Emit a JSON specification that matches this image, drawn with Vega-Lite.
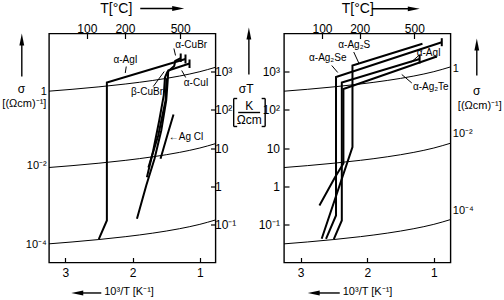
{
  "$schema": "https://vega.github.io/schema/vega-lite/v6.json",
  "background": "white",
  "padding": {"left": 1, "top": 0.5, "right": 0, "bottom": 0},
  "config": {
    "view": {"stroke": "black", "strokeWidth": 1.4},
    "axis": {"labelFont": "Liberation Sans", "labelFontSize": 12, "labelColor": "black", "tickColor": "black", "tickWidth": 1.2, "domain": false, "grid": false, "labelFlush": false, "labelOverlap": false},
    "text": {"font": "Liberation Sans", "color": "black"}
  },
  "datasets": {
    "iso_L": [
      {"sigma": "1", "x": 3.242, "sT": 308.4}, {"sigma": "1", "x": 2.9, "sT": 344.8}, {"sigma": "1", "x": 2.5, "sT": 400}, {"sigma": "1", "x": 2.1, "sT": 476.2}, {"sigma": "1", "x": 1.7, "sT": 588.2}, {"sigma": "1", "x": 1.3, "sT": 769.2}, {"sigma": "1", "x": 1.0, "sT": 1000}, {"sigma": "1", "x": 0.768, "sT": 1302},
      {"sigma": "0.01", "x": 3.242, "sT": 3.084}, {"sigma": "0.01", "x": 2.9, "sT": 3.448}, {"sigma": "0.01", "x": 2.5, "sT": 4.0}, {"sigma": "0.01", "x": 2.1, "sT": 4.762}, {"sigma": "0.01", "x": 1.7, "sT": 5.882}, {"sigma": "0.01", "x": 1.3, "sT": 7.692}, {"sigma": "0.01", "x": 1.0, "sT": 10.0}, {"sigma": "0.01", "x": 0.768, "sT": 13.02},
      {"sigma": "0.0001", "x": 3.242, "sT": 0.03084}, {"sigma": "0.0001", "x": 2.9, "sT": 0.03448}, {"sigma": "0.0001", "x": 2.5, "sT": 0.04}, {"sigma": "0.0001", "x": 2.1, "sT": 0.04762}, {"sigma": "0.0001", "x": 1.7, "sT": 0.05882}, {"sigma": "0.0001", "x": 1.3, "sT": 0.07692}, {"sigma": "0.0001", "x": 1.0, "sT": 0.1}, {"sigma": "0.0001", "x": 0.768, "sT": 0.1302}
    ],
    "iso_R": [
      {"sigma": "1", "x": 3.25, "sT": 307.7}, {"sigma": "1", "x": 2.9, "sT": 344.8}, {"sigma": "1", "x": 2.5, "sT": 400}, {"sigma": "1", "x": 2.1, "sT": 476.2}, {"sigma": "1", "x": 1.7, "sT": 588.2}, {"sigma": "1", "x": 1.3, "sT": 769.2}, {"sigma": "1", "x": 1.0, "sT": 1000}, {"sigma": "1", "x": 0.75, "sT": 1333},
      {"sigma": "0.01", "x": 3.25, "sT": 3.077}, {"sigma": "0.01", "x": 2.9, "sT": 3.448}, {"sigma": "0.01", "x": 2.5, "sT": 4.0}, {"sigma": "0.01", "x": 2.1, "sT": 4.762}, {"sigma": "0.01", "x": 1.7, "sT": 5.882}, {"sigma": "0.01", "x": 1.3, "sT": 7.692}, {"sigma": "0.01", "x": 1.0, "sT": 10.0}, {"sigma": "0.01", "x": 0.75, "sT": 13.33},
      {"sigma": "0.0001", "x": 3.25, "sT": 0.03077}, {"sigma": "0.0001", "x": 2.9, "sT": 0.03448}, {"sigma": "0.0001", "x": 2.5, "sT": 0.04}, {"sigma": "0.0001", "x": 2.1, "sT": 0.04762}, {"sigma": "0.0001", "x": 1.7, "sT": 0.05882}, {"sigma": "0.0001", "x": 1.3, "sT": 0.07692}, {"sigma": "0.0001", "x": 1.0, "sT": 0.1}, {"sigma": "0.0001", "x": 0.75, "sT": 0.1333}
    ],
    "cond_L": [
      {"id": "AgI", "o": 1, "x": 2.502, "sT": 0.041}, {"id": "AgI", "o": 2, "x": 2.382, "sT": 0.126}, {"id": "AgI", "o": 3, "x": 2.382, "sT": 520}, {"id": "AgI", "o": 4, "x": 1.214, "sT": 2150},
      {"id": "AgI_end", "o": 1, "x": 1.214, "sT": 2820}, {"id": "AgI_end", "o": 2, "x": 1.214, "sT": 1640},
      {"id": "CuBr", "o": 1, "x": 1.787, "sT": 1.72}, {"id": "CuBr", "o": 2, "x": 1.693, "sT": 8.61}, {"id": "CuBr", "o": 3, "x": 1.604, "sT": 52.6}, {"id": "CuBr", "o": 4, "x": 1.537, "sT": 238}, {"id": "CuBr", "o": 5, "x": 1.519, "sT": 703}, {"id": "CuBr", "o": 6, "x": 1.485, "sT": 980}, {"id": "CuBr", "o": 7, "x": 1.381, "sT": 1410}, {"id": "CuBr", "o": 8, "x": 1.367, "sT": 1905}, {"id": "CuBr", "o": 9, "x": 1.285, "sT": 2280},
      {"id": "CuBr_end", "o": 1, "x": 1.285, "sT": 2994}, {"id": "CuBr_end", "o": 2, "x": 1.285, "sT": 1792},
      {"id": "CuI", "o": 1, "x": 1.935, "sT": 0.14}, {"id": "CuI", "o": 2, "x": 1.797, "sT": 1.04}, {"id": "CuI", "o": 3, "x": 1.674, "sT": 5.21}, {"id": "CuI", "o": 4, "x": 1.574, "sT": 28.8}, {"id": "CuI", "o": 5, "x": 1.5, "sT": 176}, {"id": "CuI", "o": 6, "x": 1.478, "sT": 588}, {"id": "CuI", "o": 7, "x": 1.47, "sT": 1074}, {"id": "CuI", "o": 8, "x": 1.154, "sT": 1637},
      {"id": "CuI_end", "o": 1, "x": 1.154, "sT": 2084}, {"id": "CuI_end", "o": 2, "x": 1.154, "sT": 1247},
      {"id": "CuBr_beta", "o": 1, "x": 1.765, "sT": 3.08}, {"id": "CuBr_beta", "o": 2, "x": 1.619, "sT": 21.3}, {"id": "CuBr_beta", "o": 3, "x": 1.51, "sT": 176}, {"id": "CuBr_beta", "o": 4, "x": 1.496, "sT": 662},
      {"id": "AgCl", "o": 1, "x": 1.585, "sT": 5.21}, {"id": "AgCl", "o": 2, "x": 1.485, "sT": 21.3}, {"id": "AgCl", "o": 3, "x": 1.392, "sT": 75.5}
    ],
    "cond_R": [
      {"id": "Ag2Se", "o": 1, "x": 2.619, "sT": 0.0418}, {"id": "Ag2Se", "o": 2, "x": 2.469, "sT": 0.1706}, {"id": "Ag2Se", "o": 3, "x": 2.469, "sT": 724}, {"id": "Ag2Se", "o": 4, "x": 0.881, "sT": 5916},
      {"id": "Ag2Se_end", "o": 1, "x": 0.881, "sT": 7534}, {"id": "Ag2Se_end", "o": 2, "x": 0.881, "sT": 4645},
      {"id": "Ag2S", "o": 1, "x": 2.684, "sT": 0.0418}, {"id": "Ag2S", "o": 2, "x": 2.222, "sT": 10.5}, {"id": "Ag2S", "o": 3, "x": 2.222, "sT": 1452}, {"id": "Ag2S", "o": 4, "x": 1.171, "sT": 5370},
      {"id": "AgI", "o": 1, "x": 2.502, "sT": 0.041}, {"id": "AgI", "o": 2, "x": 2.382, "sT": 0.126}, {"id": "AgI", "o": 3, "x": 2.382, "sT": 520}, {"id": "AgI", "o": 4, "x": 1.214, "sT": 2150},
      {"id": "AgI_end", "o": 1, "x": 1.214, "sT": 2820}, {"id": "AgI_end", "o": 2, "x": 1.214, "sT": 1640},
      {"id": "Ag2Te", "o": 1, "x": 2.718, "sT": 0.312}, {"id": "Ag2Te", "o": 2, "x": 2.484, "sT": 1.72}, {"id": "Ag2Te", "o": 3, "x": 2.358, "sT": 3.93}, {"id": "Ag2Te", "o": 4, "x": 2.358, "sT": 351}, {"id": "Ag2Te", "o": 5, "x": 0.956, "sT": 2496}
    ],
    "name_L": [
      {"t": "α-AgI", "x": 2.106, "sT": 1963}, {"t": "α-CuBr", "x": 1.129, "sT": 4853}, {"t": "α-CuI", "x": 1.055, "sT": 490}, {"t": "β-CuBr", "x": 1.785, "sT": 293}
    ],
    "agcl_L": [{"t": "←Ag Cl", "x": 1.463, "sT": 20.0}],
    "name_R": [
      {"t": "α-Ag₂S", "x": 2.195, "sT": 4853}, {"t": "α-Ag₂Se", "x": 2.593, "sT": 2213}, {"t": "α-AgI", "x": 1.076, "sT": 3178}, {"t": "α-Ag₂Te", "x": 1.046, "sT": 408}
    ],
    "ptr_L": [
      {"x": 2.094, "sT": 1365, "x2": 2.109, "sT2": 923},
      {"x": 1.386, "sT": 4046, "x2": 1.362, "sT2": 2654},
      {"x": 1.211, "sT": 703, "x2": 1.27, "sT2": 1074},
      {"x": 1.693, "sT": 408, "x2": 1.53, "sT2": 1009}
    ],
    "ptr_R": [
      {"x": 2.203, "sT": 3273, "x2": 2.12, "sT2": 1589},
      {"x": 2.533, "sT": 1452, "x2": 2.443, "sT2": 951},
      {"x": 1.226, "sT": 2655, "x2": 1.346, "sT2": 1738},
      {"x": 1.331, "sT": 505, "x2": 1.482, "sT2": 843}
    ],
    "sig_L": [
      {"t": "1", "x": 3.275, "sT": 302}, {"t": "10⁻²", "x": 3.275, "sT": 3.28}, {"t": "10⁻⁴", "x": 3.275, "sT": 0.0279}
    ],
    "sig_R": [
      {"t": "1", "x": 0.715, "sT": 1140}, {"t": "10⁻²", "x": 0.715, "sT": 22.6}, {"t": "10⁻⁴", "x": 0.715, "sT": 0.217}
    ],
    "ttl_top_L": [{"t": "T[°C]", "x": 2.48, "sT": 66800}],
    "ttl_top_R": [{"t": "T[°C]", "x": 2.383, "sT": 66800}],
    "ttl_left_L": [{"t": "10³/T [K⁻¹]", "x": 2.421, "sT": 0.00164}, {"t": "[(Ωcm)⁻¹]", "x": 3.935, "sT": 138}],
    "ttl_left_R": [{"t": "10³/T [K⁻¹]", "x": 2.368, "sT": 0.00164}, {"t": "[(Ωcm)⁻¹]", "x": 0.64, "sT": 122.4}],
    "ttl_mid_L": [{"t": "σ", "x": 3.653, "sT": 362}, {"t": "σT", "x": 0.312, "sT": 362}, {"t": "K", "x": 0.2676, "sT": 126}, {"t": "Ωcm", "x": 0.2676, "sT": 54.2}],
    "ttl_mid_R": [{"t": "σ", "x": 0.355, "sT": 321}],
    "seg_L": [
      {"x": 3.646, "sT": 6561, "x2": 3.646, "sT2": 747},
      {"x": 1.886, "sT": 45190, "x2": 1.322, "sT2": 45190},
      {"x": 2.822, "sT": 0.00159, "x2": 2.465, "sT2": 0.00159},
      {"x": 0.272, "sT": 9414, "x2": 0.272, "sT2": 844},
      {"x": 0.431, "sT": 85.1, "x2": 0.105, "sT2": 85.1},
      {"x": 0.498, "sT": 198, "x2": 0.498, "sT2": 36.6},
      {"x": 0.498, "sT": 198, "x2": 0.446, "sT2": 198},
      {"x": 0.498, "sT": 36.6, "x2": 0.446, "sT2": 36.6},
      {"x": 0.03, "sT": 198, "x2": 0.03, "sT2": 36.6},
      {"x": 0.03, "sT": 198, "x2": 0.082, "sT2": 198},
      {"x": 0.03, "sT": 36.6, "x2": 0.082, "sT2": 36.6}
    ],
    "seg_R": [
      {"x": 0.355, "sT": 4853, "x2": 0.355, "sT2": 794},
      {"x": 1.932, "sT": 44350, "x2": 1.301, "sT2": 44350},
      {"x": 2.804, "sT": 0.00159, "x2": 2.413, "sT2": 0.00159}
    ],
    "head_L": [
      {"d": "up", "x": 3.646, "sT": 6966}, {"d": "right", "x": 1.322, "sT": 45190}, {"d": "left", "x": 2.822, "sT": 0.00159}, {"d": "up", "x": 0.272, "sT": 10000}
    ],
    "head_R": [
      {"d": "up", "x": 0.355, "sT": 5152}, {"d": "right", "x": 1.301, "sT": 44350}, {"d": "left", "x": 2.804, "sT": 0.00159}
    ]
  },
  "hconcat": [
    {
      "width": 166.5,
      "height": 229,
      "layer": [
        {
          "data": {"name": "iso_L"},
          "mark": {"type": "line", "color": "black", "strokeWidth": 1, "interpolate": "monotone"},
          "encoding": {
            "x": {"field": "x", "type": "quantitative", "scale": {"domain": [0.768, 3.242], "reverse": true, "nice": false, "zero": false},
                  "axis": {"orient": "bottom", "values": [1, 2, 3], "format": "d", "title": null, "tickSize": -5, "labelPadding": 10}},
            "y": {"field": "sT", "type": "quantitative", "scale": {"type": "log", "domain": [0.01, 10000], "nice": false},
                  "axis": {"orient": "right", "values": [0.1, 1, 10, 100, 1000], "title": null, "tickSize": -5, "labelPadding": 4, "labelAlign": "left",
                           "labelExpr": "datum.value > 500 ? '10³' : datum.value > 50 ? '10²' : datum.value > 5 ? '10' : datum.value > 0.5 ? '1' : '10⁻¹'"}},
            "detail": {"field": "sigma"}
          }
        },
        {
          "data": {"name": "cond_L"},
          "mark": {"type": "line", "color": "black", "strokeWidth": 2},
          "encoding": {
            "x": {"field": "x", "type": "quantitative", "scale": {"domain": [0.768, 3.242], "reverse": true, "nice": false, "zero": false},
                  "axis": {"orient": "top", "values": [2.6799, 2.1135, 1.2934], "title": null, "tickSize": -5, "labelPadding": 3,
                           "labelExpr": "format(1000/datum.value - 273.15, '.0f')"}},
            "y": {"field": "sT", "type": "quantitative", "scale": {"type": "log", "domain": [0.01, 10000], "nice": false}, "axis": null},
            "detail": {"field": "id"},
            "order": {"field": "o", "type": "quantitative"}
          }
        },
        {
          "data": {"name": "ptr_L"},
          "mark": {"type": "rule", "color": "black", "strokeWidth": 1},
          "encoding": {
            "x": {"field": "x", "type": "quantitative", "scale": {"domain": [0.768, 3.242], "reverse": true, "nice": false, "zero": false}, "axis": null},
            "y": {"field": "sT", "type": "quantitative", "scale": {"type": "log", "domain": [0.01, 10000], "nice": false}, "axis": null},
            "x2": {"field": "x2"}, "y2": {"field": "sT2"}
          }
        },
        {
          "data": {"name": "seg_L"},
          "mark": {"type": "rule", "color": "black", "strokeWidth": 1.4},
          "encoding": {
            "x": {"field": "x", "type": "quantitative", "scale": {"domain": [0.768, 3.242], "reverse": true, "nice": false, "zero": false}, "axis": null},
            "y": {"field": "sT", "type": "quantitative", "scale": {"type": "log", "domain": [0.01, 10000], "nice": false}, "axis": null},
            "x2": {"field": "x2"}, "y2": {"field": "sT2"}
          }
        },
        {
          "data": {"name": "head_L"},
          "mark": {"type": "point", "filled": true, "color": "black", "opacity": 1, "size": 144, "strokeWidth": 0},
          "encoding": {
            "x": {"field": "x", "type": "quantitative", "scale": {"domain": [0.768, 3.242], "reverse": true, "nice": false, "zero": false}, "axis": null},
            "y": {"field": "sT", "type": "quantitative", "scale": {"type": "log", "domain": [0.01, 10000], "nice": false}, "axis": null},
            "shape": {"field": "d", "type": "nominal", "legend": null,
                      "scale": {"domain": ["up", "right", "left"], "range": ["M0,-1L0.4,1L-0.4,1Z", "M1,0L-1,0.4L-1,-0.4Z", "M-1,0L1,0.4L1,-0.4Z"]}}
          }
        },
        {
          "data": {"name": "name_L"},
          "mark": {"type": "text", "fontSize": 10, "align": "center", "baseline": "middle", "fill": "black", "font": "Liberation Sans"},
          "encoding": {
            "x": {"field": "x", "type": "quantitative", "scale": {"domain": [0.768, 3.242], "reverse": true, "nice": false, "zero": false}, "axis": null},
            "y": {"field": "sT", "type": "quantitative", "scale": {"type": "log", "domain": [0.01, 10000], "nice": false}, "axis": null},
            "text": {"field": "t"}
          }
        },
        {
          "data": {"name": "agcl_L"},
          "mark": {"type": "text", "fontSize": 10, "align": "left", "baseline": "middle", "fill": "black", "font": "Liberation Sans"},
          "encoding": {
            "x": {"field": "x", "type": "quantitative", "scale": {"domain": [0.768, 3.242], "reverse": true, "nice": false, "zero": false}, "axis": null},
            "y": {"field": "sT", "type": "quantitative", "scale": {"type": "log", "domain": [0.01, 10000], "nice": false}, "axis": null},
            "text": {"field": "t"}
          }
        },
        {
          "data": {"name": "sig_L"},
          "mark": {"type": "text", "fontSize": 11, "align": "right", "baseline": "middle", "fill": "black", "font": "Liberation Sans"},
          "encoding": {
            "x": {"field": "x", "type": "quantitative", "scale": {"domain": [0.768, 3.242], "reverse": true, "nice": false, "zero": false}, "axis": null},
            "y": {"field": "sT", "type": "quantitative", "scale": {"type": "log", "domain": [0.01, 10000], "nice": false}, "axis": null},
            "text": {"field": "t"}
          }
        },
        {
          "data": {"name": "ttl_top_L"},
          "mark": {"type": "text", "fontSize": 14, "align": "left", "baseline": "top", "fill": "black", "font": "Liberation Sans"},
          "encoding": {
            "x": {"field": "x", "type": "quantitative", "scale": {"domain": [0.768, 3.242], "reverse": true, "nice": false, "zero": false}, "axis": null},
            "y": {"field": "sT", "type": "quantitative", "scale": {"type": "log", "domain": [0.01, 10000], "nice": false}, "axis": null},
            "text": {"field": "t"}
          }
        },
        {
          "data": {"name": "ttl_left_L"},
          "mark": {"type": "text", "fontSize": 11, "align": "left", "baseline": "middle", "fill": "black", "font": "Liberation Sans"},
          "encoding": {
            "x": {"field": "x", "type": "quantitative", "scale": {"domain": [0.768, 3.242], "reverse": true, "nice": false, "zero": false}, "axis": null},
            "y": {"field": "sT", "type": "quantitative", "scale": {"type": "log", "domain": [0.01, 10000], "nice": false}, "axis": null},
            "text": {"field": "t"}
          }
        },
        {
          "data": {"name": "ttl_mid_L"},
          "mark": {"type": "text", "fontSize": 12, "align": "center", "baseline": "middle", "fill": "black", "font": "Liberation Sans"},
          "encoding": {
            "x": {"field": "x", "type": "quantitative", "scale": {"domain": [0.768, 3.242], "reverse": true, "nice": false, "zero": false}, "axis": null},
            "y": {"field": "sT", "type": "quantitative", "scale": {"type": "log", "domain": [0.01, 10000], "nice": false}, "axis": null},
            "text": {"field": "t"}
          }
        }
      ],
      "resolve": {"axis": {"x": "independent", "y": "independent"}}
    },
    {
      "width": 166.5,
      "height": 229,
      "layer": [
        {
          "data": {"name": "iso_R"},
          "mark": {"type": "line", "color": "black", "strokeWidth": 1, "interpolate": "monotone"},
          "encoding": {
            "x": {"field": "x", "type": "quantitative", "scale": {"domain": [0.75, 3.25], "reverse": true, "nice": false, "zero": false},
                  "axis": {"orient": "bottom", "values": [1, 2, 3], "format": "d", "title": null, "tickSize": -5, "labelPadding": 10}},
            "y": {"field": "sT", "type": "quantitative", "scale": {"type": "log", "domain": [0.01, 10000], "nice": false},
                  "axis": {"orient": "left", "values": [0.1, 1, 10, 100, 1000], "title": null, "tickSize": -5, "labelPadding": 9.5, "labelAlign": "right",
                           "labelExpr": "datum.value > 500 ? '10³' : datum.value > 50 ? '10²' : datum.value > 5 ? '10' : datum.value > 0.5 ? '1' : '10⁻¹'"}},
            "detail": {"field": "sigma"}
          }
        },
        {
          "data": {"name": "cond_R"},
          "mark": {"type": "line", "color": "black", "strokeWidth": 2},
          "encoding": {
            "x": {"field": "x", "type": "quantitative", "scale": {"domain": [0.75, 3.25], "reverse": true, "nice": false, "zero": false},
                  "axis": {"orient": "top", "values": [2.6799, 2.1135, 1.2934], "title": null, "tickSize": -5, "labelPadding": 3,
                           "labelExpr": "format(1000/datum.value - 273.15, '.0f')"}},
            "y": {"field": "sT", "type": "quantitative", "scale": {"type": "log", "domain": [0.01, 10000], "nice": false}, "axis": null},
            "detail": {"field": "id"},
            "order": {"field": "o", "type": "quantitative"}
          }
        },
        {
          "data": {"name": "ptr_R"},
          "mark": {"type": "rule", "color": "black", "strokeWidth": 1},
          "encoding": {
            "x": {"field": "x", "type": "quantitative", "scale": {"domain": [0.75, 3.25], "reverse": true, "nice": false, "zero": false}, "axis": null},
            "y": {"field": "sT", "type": "quantitative", "scale": {"type": "log", "domain": [0.01, 10000], "nice": false}, "axis": null},
            "x2": {"field": "x2"}, "y2": {"field": "sT2"}
          }
        },
        {
          "data": {"name": "seg_R"},
          "mark": {"type": "rule", "color": "black", "strokeWidth": 1.4},
          "encoding": {
            "x": {"field": "x", "type": "quantitative", "scale": {"domain": [0.75, 3.25], "reverse": true, "nice": false, "zero": false}, "axis": null},
            "y": {"field": "sT", "type": "quantitative", "scale": {"type": "log", "domain": [0.01, 10000], "nice": false}, "axis": null},
            "x2": {"field": "x2"}, "y2": {"field": "sT2"}
          }
        },
        {
          "data": {"name": "head_R"},
          "mark": {"type": "point", "filled": true, "color": "black", "opacity": 1, "size": 144, "strokeWidth": 0},
          "encoding": {
            "x": {"field": "x", "type": "quantitative", "scale": {"domain": [0.75, 3.25], "reverse": true, "nice": false, "zero": false}, "axis": null},
            "y": {"field": "sT", "type": "quantitative", "scale": {"type": "log", "domain": [0.01, 10000], "nice": false}, "axis": null},
            "shape": {"field": "d", "type": "nominal", "legend": null,
                      "scale": {"domain": ["up", "right", "left"], "range": ["M0,-1L0.4,1L-0.4,1Z", "M1,0L-1,0.4L-1,-0.4Z", "M-1,0L1,0.4L1,-0.4Z"]}}
          }
        },
        {
          "data": {"name": "name_R"},
          "mark": {"type": "text", "fontSize": 10, "align": "center", "baseline": "middle", "fill": "black", "font": "Liberation Sans"},
          "encoding": {
            "x": {"field": "x", "type": "quantitative", "scale": {"domain": [0.75, 3.25], "reverse": true, "nice": false, "zero": false}, "axis": null},
            "y": {"field": "sT", "type": "quantitative", "scale": {"type": "log", "domain": [0.01, 10000], "nice": false}, "axis": null},
            "text": {"field": "t"}
          }
        },
        {
          "data": {"name": "sig_R"},
          "mark": {"type": "text", "fontSize": 11, "align": "left", "baseline": "middle", "fill": "black", "font": "Liberation Sans"},
          "encoding": {
            "x": {"field": "x", "type": "quantitative", "scale": {"domain": [0.75, 3.25], "reverse": true, "nice": false, "zero": false}, "axis": null},
            "y": {"field": "sT", "type": "quantitative", "scale": {"type": "log", "domain": [0.01, 10000], "nice": false}, "axis": null},
            "text": {"field": "t"}
          }
        },
        {
          "data": {"name": "ttl_top_R"},
          "mark": {"type": "text", "fontSize": 14, "align": "left", "baseline": "top", "fill": "black", "font": "Liberation Sans"},
          "encoding": {
            "x": {"field": "x", "type": "quantitative", "scale": {"domain": [0.75, 3.25], "reverse": true, "nice": false, "zero": false}, "axis": null},
            "y": {"field": "sT", "type": "quantitative", "scale": {"type": "log", "domain": [0.01, 10000], "nice": false}, "axis": null},
            "text": {"field": "t"}
          }
        },
        {
          "data": {"name": "ttl_left_R"},
          "mark": {"type": "text", "fontSize": 11, "align": "left", "baseline": "middle", "fill": "black", "font": "Liberation Sans"},
          "encoding": {
            "x": {"field": "x", "type": "quantitative", "scale": {"domain": [0.75, 3.25], "reverse": true, "nice": false, "zero": false}, "axis": null},
            "y": {"field": "sT", "type": "quantitative", "scale": {"type": "log", "domain": [0.01, 10000], "nice": false}, "axis": null},
            "text": {"field": "t"}
          }
        },
        {
          "data": {"name": "ttl_mid_R"},
          "mark": {"type": "text", "fontSize": 12, "align": "center", "baseline": "middle", "fill": "black", "font": "Liberation Sans"},
          "encoding": {
            "x": {"field": "x", "type": "quantitative", "scale": {"domain": [0.75, 3.25], "reverse": true, "nice": false, "zero": false}, "axis": null},
            "y": {"field": "sT", "type": "quantitative", "scale": {"type": "log", "domain": [0.01, 10000], "nice": false}, "axis": null},
            "text": {"field": "t"}
          }
        }
      ],
      "resolve": {"axis": {"x": "independent", "y": "independent"}}
    }
  ],
  "spacing": 68,
  "bounds": "flush"
}
